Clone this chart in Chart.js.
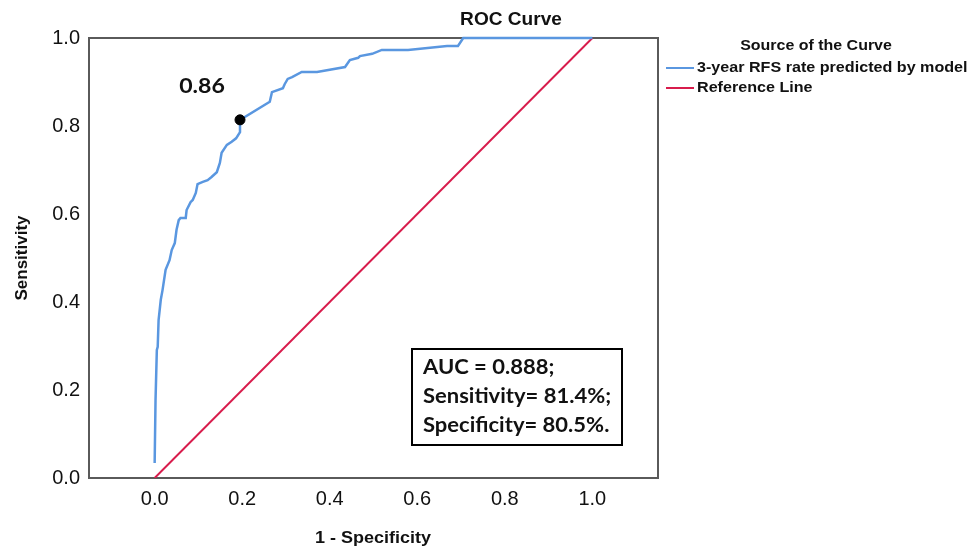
<!DOCTYPE html>
<html>
<head>
<meta charset="utf-8">
<script src="https://cdn.jsdelivr.net/npm/chart.js@4/dist/chart.umd.min.js"></script>
<style>
  html, body { margin: 0; padding: 0; background: #fff; }
  #wrap { width: 969px; height: 548px; position: relative; }
</style>
</head>
<body>
<div id="wrap"><canvas id="roc" width="969" height="548"></canvas></div>
<script>
// ROC curve of the model: 1 - specificity (x) against sensitivity (y)
const fpr = [0.000, 0.002, 0.005, 0.007, 0.009, 0.014, 0.018, 0.025, 0.034, 0.039, 0.046, 0.050,
             0.055, 0.059, 0.071, 0.073, 0.082, 0.087, 0.094, 0.098, 0.110, 0.121, 0.130, 0.142,
             0.149, 0.153, 0.165, 0.176, 0.186, 0.195, 0.195, 0.263, 0.268, 0.293, 0.297, 0.304,
             0.314, 0.336, 0.371, 0.435, 0.446, 0.465, 0.469, 0.497, 0.519, 0.579, 0.668, 0.693,
             0.705, 1.000];
const tpr = [0.034, 0.177, 0.291, 0.298, 0.359, 0.405, 0.427, 0.473, 0.495, 0.518, 0.534, 0.564,
             0.586, 0.591, 0.591, 0.609, 0.627, 0.632, 0.648, 0.668, 0.673, 0.677, 0.684, 0.695,
             0.716, 0.739, 0.757, 0.764, 0.772, 0.786, 0.814, 0.855, 0.877, 0.886, 0.895, 0.907,
             0.911, 0.923, 0.923, 0.934, 0.950, 0.955, 0.959, 0.964, 0.973, 0.973, 0.982, 0.982,
             1.000, 1.000];

// Chance diagonal
const refX = [0, 1];
const refY = [0, 1];

// Chosen cut-off and summary statistics
const auc = 0.888;
const sensitivity = 0.814;
const specificity = 0.805;
const cutoffLabel = '0.86';

// Axis tick values
const tickValues = [0.0, 0.2, 0.4, 0.6, 0.8, 1.0];

const seriesNames = ['3-year RFS rate predicted by model', 'Reference Line'];
const blue = '#5a97e0';
const red = '#d81c4c';

const toPoints = (xs, ys) => xs.map((x, i) => ({ x: x, y: ys[i] }));

const SANS = "'Liberation Sans', Arial, sans-serif";
const BOX = "Lato, Carlito, sans-serif";
const tickFont = { family: SANS, size: 20 };

// draws text squeezed/stretched horizontally by factor sx
function wideText(ctx, text, x, y, sx, align) {
  ctx.save();
  ctx.translate(x, y);
  ctx.scale(sx, 1);
  ctx.textAlign = align;
  ctx.fillText(text, 0, 0);
  ctx.restore();
}

const decorations = {
  id: 'decorations',
  beforeDatasetsDraw(chart) {
    const { ctx, chartArea: a } = chart;
    ctx.save();
    ctx.strokeStyle = '#5a5a5a';
    ctx.lineWidth = 2;
    ctx.strokeRect(a.left, a.top, a.right - a.left, a.bottom - a.top);
    ctx.restore();
  },
  afterDraw(chart) {
    const { ctx, chartArea: a, scales } = chart;
    ctx.save();
    ctx.fillStyle = '#111';
    ctx.textBaseline = 'middle';

    // chart title
    ctx.font = 'bold 18px ' + SANS;
    wideText(ctx, 'ROC Curve', 511, 20, 1.06, 'center');

    // axis titles
    ctx.font = 'bold 17px ' + SANS;
    wideText(ctx, '1 - Specificity', 373, 538, 1.06, 'center');
    ctx.save();
    ctx.translate(22, (a.top + a.bottom) / 2);
    ctx.rotate(-Math.PI / 2);
    ctx.textAlign = 'center';
    ctx.fillText('Sensitivity', 0, 0);
    ctx.restore();

    // legend
    ctx.font = 'bold 15.5px ' + SANS;
    wideText(ctx, 'Source of the Curve', 816, 46, 1.03, 'center');
    const colors = [blue, red];
    seriesNames.forEach((name, i) => {
      const y = 68 + i * 20;
      ctx.strokeStyle = colors[i];
      ctx.lineWidth = 2;
      ctx.beginPath();
      ctx.moveTo(666, y);
      ctx.lineTo(694, y);
      ctx.stroke();
      wideText(ctx, name, 697, y, 1.04, 'left');
    });

    // cut-off label next to the marked point
    const px = scales.x.getPixelForValue(1 - specificity);
    const py = scales.y.getPixelForValue(sensitivity);
    ctx.font = 'bold 21px ' + BOX;
    wideText(ctx, cutoffLabel, px - 38, py - 34, 1.1, 'center');

    // statistics box
    ctx.strokeStyle = '#000';
    ctx.lineWidth = 2;
    ctx.strokeRect(412, 349, 210, 96);
    ctx.font = 'bold 20px ' + BOX;
    const lines = [
      'AUC = ' + auc.toFixed(3) + ';',
      'Sensitivity= ' + (sensitivity * 100).toFixed(1) + '%;',
      'Specificity= ' + (specificity * 100).toFixed(1) + '%.'
    ];
    lines.forEach((t, i) => wideText(ctx, t, 423, 368 + i * 29, 1.1, 'left'));
    ctx.restore();
  }
};

new Chart(document.getElementById('roc'), {
  type: 'scatter',
  data: {
    datasets: [
      {
        label: seriesNames[1],
        data: toPoints(refX, refY),
        showLine: true,
        borderColor: red,
        borderWidth: 2,
        pointRadius: 0,
        order: 3
      },
      {
        label: seriesNames[0],
        data: toPoints(fpr, tpr),
        showLine: true,
        borderColor: blue,
        borderWidth: 2.5,
        pointRadius: 0,
        tension: 0,
        clip: 4,
        order: 2
      },
      {
        label: 'cut-off',
        data: [{ x: 1 - specificity, y: sensitivity }],
        pointRadius: 5,
        pointBackgroundColor: '#000',
        pointBorderColor: '#000',
        order: 1
      }
    ]
  },
  options: {
    responsive: false,
    animation: false,
    layout: { padding: { top: 38, right: 311, left: 0, bottom: 0 } },
    plugins: {
      legend: { display: false },
      title: { display: false },
      tooltip: { enabled: false }
    },
    scales: {
      x: {
        type: 'linear',
        min: -0.15,
        max: 1.15,
        grid: { display: false, drawTicks: false },
        border: { display: false },
        afterBuildTicks: s => { s.ticks = tickValues.map(v => ({ value: v })); },
        afterFit: s => { s.height = 70; },
        ticks: {
          font: tickFont,
          color: '#111',
          padding: 9,
          maxRotation: 0,
          callback: v => v.toFixed(1)
        }
      },
      y: {
        type: 'linear',
        min: 0,
        max: 1,
        grid: { display: false, drawTicks: false },
        border: { display: false },
        afterBuildTicks: s => { s.ticks = tickValues.map(v => ({ value: v })); },
        afterFit: s => { s.width = 89; },
        ticks: {
          font: tickFont,
          color: '#111',
          padding: 9,
          callback: v => v.toFixed(1)
        }
      }
    }
  },
  plugins: [decorations]
});
</script>
</body>
</html>
